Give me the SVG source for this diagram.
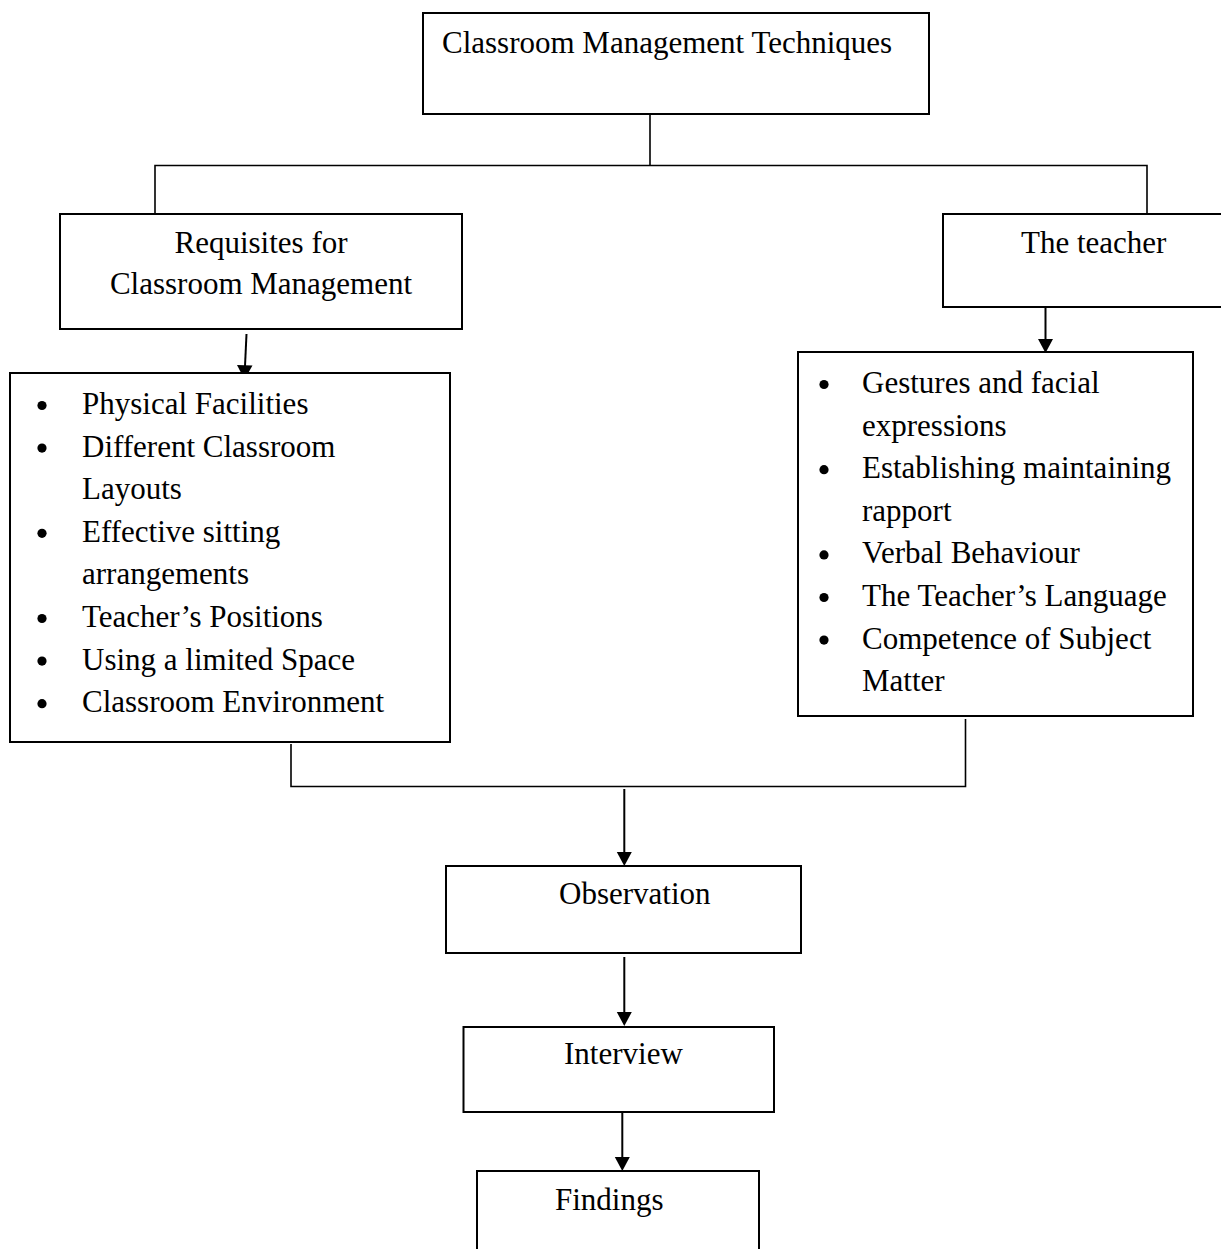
<svg xmlns="http://www.w3.org/2000/svg" width="1221" height="1249" viewBox="0 0 1221 1249">
<style>
.box{fill:#fff;stroke:#000;stroke-width:2}
.t{font-family:"Liberation Serif","Times New Roman",serif;font-size:31px;fill:#000}
.c{fill:none;stroke:#000;stroke-width:1.6}
.a{fill:none;stroke:#000;stroke-width:2}
.h{fill:#000}
.b{fill:#000}
</style>
<rect width="1221" height="1249" fill="#fff"/>
<g id="connectors">
<path class="c" d="M650,114 V165.5 M155,214 V165.5 H1147 V214"/>
<path class="a" d="M246.5,334 L245,366"/>
<path class="h" d="M237,365 L252.5,365.5 L244.5,379.5 Z"/>
<path class="a" d="M1045.5,308 V340"/>
<path class="h" d="M1038,339 H1053 L1045.5,353 Z"/>
<path class="c" d="M291,744 V786.5 H965.5 V719"/>
<path class="a" d="M624.3,789 V853"/>
<path class="h" d="M616.8,852 H631.8 L624.3,866 Z"/>
<path class="a" d="M624.3,957 V1013"/>
<path class="h" d="M616.8,1012 H631.8 L624.3,1026 Z"/>
<path class="a" d="M622.3,1112 V1158"/>
<path class="h" d="M614.8,1157 H629.8 L622.3,1171 Z"/>
</g>
<g id="top">
<rect class="box" x="423" y="13" width="506" height="101"/>
<text class="t" x="442" y="53">Classroom Management Techniques</text>
</g>
<g id="requisites">
<rect class="box" x="60" y="214" width="402" height="115"/>
<text class="t" x="261" y="253" text-anchor="middle">Requisites for</text>
<text class="t" x="261" y="294" text-anchor="middle">Classroom Management</text>
</g>
<g id="teacher">
<rect class="box" x="943" y="214" width="300" height="93"/>
<text class="t" x="1021" y="253">The teacher</text>
</g>
<g id="requisites-list">
<rect class="box" x="10" y="373" width="440" height="369"/>
<circle class="b" cx="42" cy="405.5" r="4.6"/>
<text class="t" x="82" y="414">Physical Facilities</text>
<circle class="b" cx="42" cy="448.1" r="4.6"/>
<text class="t" x="82" y="456.6">Different Classroom</text>
<text class="t" x="82" y="499.2">Layouts</text>
<circle class="b" cx="42" cy="533.3" r="4.6"/>
<text class="t" x="82" y="541.8">Effective sitting</text>
<text class="t" x="82" y="584.4">arrangements</text>
<circle class="b" cx="42" cy="618.5" r="4.6"/>
<text class="t" x="82" y="627">Teacher’s Positions</text>
<circle class="b" cx="42" cy="661.1" r="4.6"/>
<text class="t" x="82" y="669.6">Using a limited Space</text>
<circle class="b" cx="42" cy="703.7" r="4.6"/>
<text class="t" x="82" y="712.2">Classroom Environment</text>
</g>
<g id="teacher-list">
<rect class="box" x="798" y="352" width="395" height="364"/>
<circle class="b" cx="824" cy="384.5" r="4.6"/>
<text class="t" x="862" y="393">Gestures and facial</text>
<text class="t" x="862" y="435.6">expressions</text>
<circle class="b" cx="824" cy="469.7" r="4.6"/>
<text class="t" x="862" y="478.2">Establishing maintaining</text>
<text class="t" x="862" y="520.8">rapport</text>
<circle class="b" cx="824" cy="554.9" r="4.6"/>
<text class="t" x="862" y="563.4">Verbal Behaviour</text>
<circle class="b" cx="824" cy="597.5" r="4.6"/>
<text class="t" x="862" y="606">The Teacher’s Language</text>
<circle class="b" cx="824" cy="640.1" r="4.6"/>
<text class="t" x="862" y="648.6">Competence of Subject</text>
<text class="t" x="862" y="691.2">Matter</text>
</g>
<g id="observation">
<rect class="box" x="446" y="866" width="355" height="87"/>
<text class="t" x="559" y="904">Observation</text>
</g>
<g id="interview">
<rect class="box" x="463.5" y="1027" width="310.5" height="85"/>
<text class="t" x="564" y="1064">Interview</text>
</g>
<g id="findings">
<rect class="box" x="477" y="1171" width="282" height="100"/>
<text class="t" x="555" y="1210">Findings</text>
</g>
</svg>
